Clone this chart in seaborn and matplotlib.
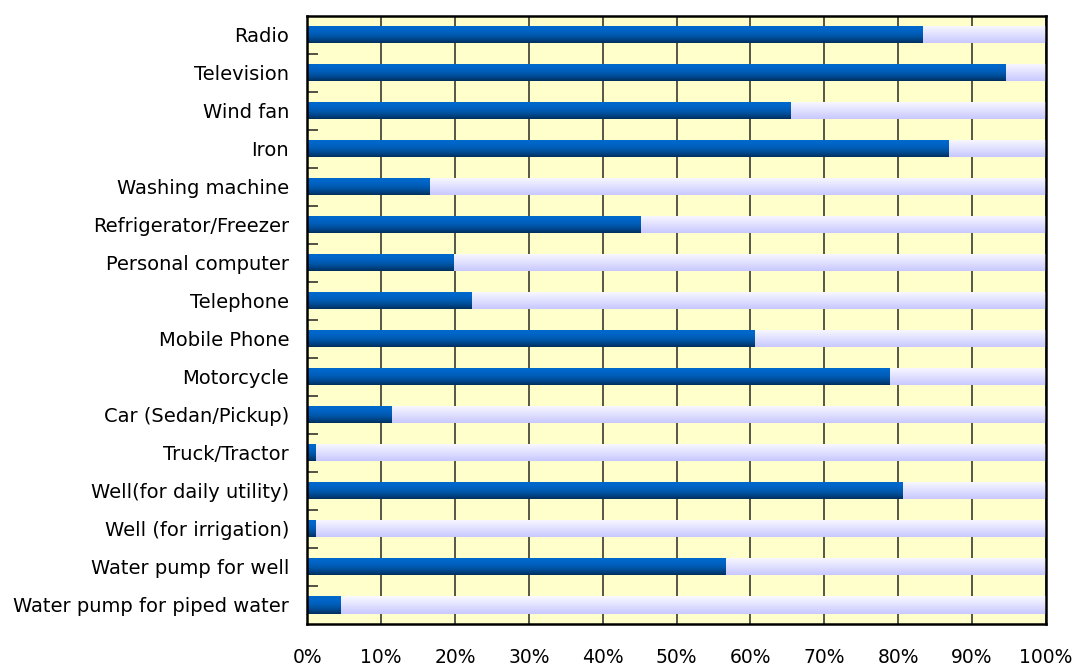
import numpy as np
import pandas as pd
import matplotlib
matplotlib.use("Agg")
import matplotlib.pyplot as plt
from matplotlib.colors import to_rgb
from matplotlib.ticker import FixedLocator, FuncFormatter
import seaborn as sns

# Household ownership of durable goods (% of households)
items = [
    "Radio", "Television", "Wind fan", "Iron", "Washing machine",
    "Refrigerator/Freezer", "Personal computer", "Telephone", "Mobile Phone",
    "Motorcycle", "Car (Sedan/Pickup)", "Truck/Tractor",
    "Well(for daily utility)", "Well (for irrigation)",
    "Water pump for well", "Water pump for piped water",
]
owned = [83.3, 94.5, 65.5, 86.9, 16.6, 45.1, 19.8, 22.3, 60.6,
         78.8, 11.5, 1.2, 80.6, 1.2, 56.6, 4.5]
total = [100.0] * len(items)
x_ticks = list(range(0, 101, 10))

df = pd.DataFrame({"item": items, "owned": owned, "total": total})

sns.set_theme(style="white")
plt.rcParams["font.family"] = ["DejaVu Sans"]

fig = plt.figure(figsize=(10.72, 6.66), dpi=100)
ax = fig.add_axes([0.2866, 0.0631, 0.6891, 0.9136])
ax.set_facecolor("#FFFFCC")

bar_h = 0.45
sns.barplot(data=df, x="total", y="item", orient="h", order=items,
            color="#CCCCFF", width=bar_h, ax=ax, zorder=2)
n_bg = len(ax.patches)
sns.barplot(data=df, x="owned", y="item", orient="h", order=items,
            color="#0066CC", width=bar_h, ax=ax, zorder=3)


def gradient(top, bottom, n=64, gamma=1.0):
    t = np.linspace(0, 1, n) ** gamma
    c0, c1 = np.array(to_rgb(top)), np.array(to_rgb(bottom))
    return (c0[None, :] * (1 - t[:, None]) + c1[None, :] * t[:, None])[:, None, :]


light = gradient("#FAFAFF", "#C8C8FF", gamma=1.0)
dark = gradient("#0068CC", "#002E5C", gamma=2.2)

ax.set_xlim(0, 100)
ax.set_ylim(len(items) - 0.5, -0.5)
xl, yl = ax.get_xlim(), ax.get_ylim()
for i, p in enumerate(ax.patches):
    x0, y0 = p.get_x(), p.get_y()
    w, h = p.get_width(), p.get_height()
    img = light if i < n_bg else dark
    im = ax.imshow(img, extent=(x0, x0 + w, y0 + h, y0), origin="upper",
                   aspect="auto", interpolation="bilinear",
                   zorder=p.get_zorder())
    im.set_clip_path(p)
    p.set_facecolor("none")
    p.set_edgecolor("none")
ax.set_xlim(xl)
ax.set_ylim(yl)

# vertical grid lines
ax.xaxis.set_major_locator(FixedLocator(x_ticks))
ax.xaxis.set_major_formatter(FuncFormatter(lambda v, _: f"{v:.0f}%"))
ax.grid(axis="x", color="#3a3a30", linewidth=1.2, linestyle="-", zorder=1)
ax.set_axisbelow(True)

ax.set_xlabel("")
ax.set_ylabel("")
ax.tick_params(axis="x", length=0, pad=17, labelsize=13.5, labelcolor="black")
ax.tick_params(axis="y", which="major", length=0, pad=13, labelsize=14,
               labelcolor="black")
ax.yaxis.set_minor_locator(FixedLocator(np.arange(0.5, len(items) - 1, 1.0)))
ax.tick_params(axis="y", which="minor", direction="in", length=8, width=1.2,
               color="#333333", left=True)

for s in ax.spines.values():
    s.set_visible(True)
    s.set_color("black")
    s.set_linewidth(1.8)
    s.set_zorder(5)

fig.savefig("out.png", dpi=100)
